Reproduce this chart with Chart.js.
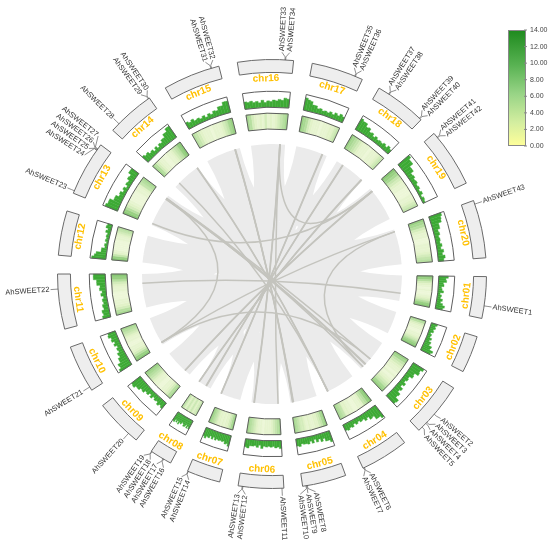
<!DOCTYPE html>
<html>
<head>
<meta charset="utf-8">
<script src="https://cdn.jsdelivr.net/npm/chart.js@4.4.0/dist/chart.umd.min.js"></script>
<style>
  body { margin: 0; background: #fff; }
  canvas { display: block; }
</style>
</head>
<body>
<canvas id="circos" width="550" height="547"></canvas>
<script>
// chromosomes (approximate lengths, Mb)
const chromosomes = ['chr01', 'chr02', 'chr03', 'chr04', 'chr05', 'chr06', 'chr07', 'chr08', 'chr09', 'chr10',
  'chr11', 'chr12', 'chr13', 'chr14', 'chr15', 'chr16', 'chr17', 'chr18', 'chr19', 'chr20'];
const chrLengths = [112, 100, 146, 130, 118, 122, 90, 60, 128, 128, 148, 120, 148, 130, 154, 150, 140, 140, 158, 156];
const gapLength = 50;

// SWEET genes: chromosome number and position (Mb)
const geneNames = ['AhSWEET1', 'AhSWEET2', 'AhSWEET3', 'AhSWEET4', 'AhSWEET5', 'AhSWEET6', 'AhSWEET7', 'AhSWEET8',
  'AhSWEET9', 'AhSWEET10', 'AhSWEET11', 'AhSWEET12', 'AhSWEET13', 'AhSWEET14', 'AhSWEET15', 'AhSWEET16',
  'AhSWEET17', 'AhSWEET18', 'AhSWEET19', 'AhSWEET20', 'AhSWEET21', 'AhSWEET22', 'AhSWEET23', 'AhSWEET24',
  'AhSWEET25', 'AhSWEET26', 'AhSWEET27', 'AhSWEET28', 'AhSWEET29', 'AhSWEET30', 'AhSWEET31', 'AhSWEET32',
  'AhSWEET33', 'AhSWEET34', 'AhSWEET35', 'AhSWEET36', 'AhSWEET37', 'AhSWEET38', 'AhSWEET39', 'AhSWEET40',
  'AhSWEET41', 'AhSWEET42', 'AhSWEET43'];
const geneChr = [1, 3, 3, 3, 3, 4, 4, 5, 5, 5, 6, 6, 6, 7, 7, 8, 8, 8, 8, 9, 10, 11,
  13, 13, 13, 13, 13, 14, 14, 14, 15, 15, 16, 16, 17, 17, 18, 18, 18, 18, 19, 19, 20];
const genePos = [78, 87, 116, 120, 134, 126, 128, 105, 107, 109, 5, 109, 111, 88, 89, 21, 23, 58, 59, 27, 10, 108,
  7, 130, 131, 133, 135, 24, 126, 128, 132, 134, 127, 129, 118, 120, 30, 32, 134, 136, 13, 15, 10];

// syntenic blocks: [chrA, startA, endA, chrB, startB, endB] (Mb)
const synteny = [
  [1, 0, 112, 11, 0, 148], [2, 0, 100, 12, 0, 120], [3, 0, 146, 13, 0, 148], [4, 0, 130, 14, 0, 130],
  [5, 0, 118, 15, 0, 154], [6, 0, 122, 16, 0, 150], [7, 0, 90, 17, 0, 140], [8, 0, 60, 18, 0, 140],
  [9, 0, 128, 19, 0, 158], [10, 0, 128, 20, 0, 156],
  [1, 34, 112, 7, 0, 63], [2, 30, 100, 8, 0, 42], [3, 44, 146, 9, 0, 90], [4, 39, 130, 10, 0, 90],
  [5, 35, 118, 11, 0, 104], [6, 37, 122, 12, 0, 84], [7, 27, 90, 13, 0, 104], [8, 18, 60, 14, 0, 91],
  [9, 38, 128, 15, 0, 108], [10, 38, 128, 16, 0, 105], [11, 44, 148, 17, 0, 98], [12, 36, 120, 18, 0, 98],
  [13, 44, 148, 19, 0, 111], [14, 39, 130, 20, 0, 109], [15, 46, 154, 1, 0, 78], [16, 45, 150, 2, 0, 70],
  [17, 42, 140, 3, 0, 102], [18, 42, 140, 4, 0, 91], [19, 47, 158, 5, 0, 83], [20, 47, 156, 6, 0, 85]
];
// duplicated gene pairs (gene numbers)
const genePairs = [[1, 22], [3, 24], [4, 25], [5, 26], [2, 27], [6, 29], [7, 30], [8, 31], [9, 32], [10, 31],
  [11, 33], [12, 34], [13, 33], [14, 35], [15, 36], [16, 37], [17, 38], [18, 39], [19, 40], [20, 41], [20, 42],
  [21, 43], [33, 41], [23, 42], [43, 5], [26, 21], [21, 2], [28, 6]];

// gene density, 16 bins per chromosome
const histValues = [
  [6, 4.5, 5, 3, 3.5, 2, 2.5, 3.5, 1.5, 2.5, 2, 3.5, 2.5, 4, 5.5, 4.5],
  [4, 3, 3.5, 2.5, 3, 1.5, 2.5, 2, 3.5, 2.5, 4, 3.5, 5.5, 5, 7.5, 6.5],
  [8, 6.5, 7, 4.5, 5, 3, 3.5, 2.5, 4, 2.5, 4.5, 3.5, 5.5, 5, 7.5, 7],
  [9, 7.5, 7.5, 5, 5.5, 3.5, 4.5, 3, 3.5, 2.5, 3.5, 2.5, 4, 3.5, 4.5, 4],
  [7, 5.5, 5.5, 3.5, 5, 3, 4.5, 2.5, 4.5, 3, 4.5, 4, 4, 3.5, 5, 4.5],
  [5, 4, 4.5, 3.5, 4, 3.5, 4, 3.5, 5, 3, 4.5, 3.5, 4, 4, 5.5, 5],
  [7, 5.5, 6, 4.5, 5, 4.5, 5, 4.5, 5.5, 4, 5.5, 4, 5.5, 5, 6.5, 5.5],
  [6, 4.5, 6, 4, 5.5, 6, 4.5, 4, 5.5, 5, 6.5, 4.5, 6, 4.5, 6.5, 6],
  [4.5, 3.5, 4.5, 3, 3.5, 2.5, 4, 2.5, 4, 3.5, 5, 4.5, 6, 6, 7.5, 7],
  [8.5, 7, 7.5, 5.5, 5.5, 4, 4.5, 3, 3.5, 2.5, 4, 3, 4.5, 4, 5.5, 5],
  [5, 4, 4.5, 3, 3.5, 2.5, 3, 2, 3.5, 2.5, 4, 3.5, 5.5, 5.5, 7.5, 7.5],
  [9, 7.5, 6.5, 3.5, 3.5, 1.5, 2, 1, 2, 1.5, 2, 1.5, 3, 2, 3.5, 3],
  [8.5, 7.5, 7.5, 5, 5, 3, 3.5, 2, 3, 1.5, 3, 2.5, 4, 3.5, 5.5, 5.5],
  [5, 4, 4.5, 3, 3.5, 2, 3.5, 2, 3.5, 3, 4.5, 4.5, 6.5, 6.5, 8.5, 8.5],
  [4.5, 3.5, 4.5, 3, 3.5, 2.5, 3.5, 2, 3.5, 2.5, 4, 3.5, 5.5, 5.5, 7.5, 7.5],
  [4.5, 4, 4.5, 3.5, 4, 3, 4.5, 3, 4, 3.5, 4.5, 4, 5, 4.5, 6, 5.5],
  [8, 7, 6.5, 4.5, 4.5, 3, 3.5, 2.5, 3, 2.5, 3.5, 2.5, 4, 3, 4.5, 3.5],
  [8, 7, 7, 5, 5.5, 3.5, 4, 2.5, 3.5, 2.5, 3, 2.5, 3.5, 2.5, 4, 3],
  [9, 7.5, 7.5, 5, 5, 3, 3.5, 2.5, 3, 2, 2.5, 1.5, 2.5, 1, 2, 1.5],
  [8, 7, 6.5, 4.5, 4.5, 3, 3.5, 2.5, 3, 2.5, 3.5, 2.5, 4, 3, 4.5, 3.5]
];
const histMax = 10;

const heatValues = [
  [10, 9, 7, 5, 4, 3, 2, 3, 2, 2, 3, 4, 5, 7, 9, 10],
  [8, 7, 5, 4, 3, 3, 2, 2, 3, 3, 4, 5, 6, 8, 9, 10],
  [9, 8, 6, 5, 4, 3, 3, 2, 3, 2, 3, 4, 5, 6, 8, 9],
  [10, 9, 7, 6, 4, 3, 3, 2, 2, 3, 3, 4, 4, 6, 7, 8],
  [9, 8, 6, 5, 4, 4, 3, 3, 4, 3, 4, 5, 5, 6, 7, 8],
  [8, 7, 6, 5, 4, 3, 3, 3, 2, 3, 3, 4, 5, 6, 7, 8],
  [9, 8, 6, 5, 4, 4, 3, 4, 3, 4, 4, 5, 6, 7, 8, 9],
  [7, 6, 5, 5, 4, 5, 6, 5, 4, 5, 6, 5, 4, 5, 6, 7],
  [8, 7, 5, 4, 3, 3, 2, 2, 3, 3, 4, 5, 6, 7, 8, 9],
  [10, 9, 7, 5, 4, 3, 3, 2, 2, 3, 3, 4, 5, 6, 7, 8],
  [8, 7, 5, 4, 3, 3, 2, 2, 2, 3, 3, 4, 5, 7, 9, 10],
  [10, 9, 6, 4, 3, 2, 2, 2, 2, 2, 3, 3, 4, 5, 6, 7],
  [10, 9, 7, 5, 4, 3, 2, 2, 2, 2, 3, 3, 4, 6, 7, 8],
  [8, 7, 5, 4, 3, 3, 2, 2, 3, 3, 4, 5, 6, 7, 9, 10],
  [7, 6, 5, 4, 3, 3, 3, 2, 3, 3, 3, 4, 5, 6, 8, 9],
  [8, 7, 5, 4, 3, 4, 3, 5, 3, 4, 3, 4, 5, 6, 7, 8],
  [9, 8, 7, 5, 4, 3, 3, 3, 2, 3, 3, 3, 4, 4, 5, 6],
  [9, 8, 7, 6, 5, 4, 3, 3, 3, 2, 3, 3, 3, 4, 5, 6],
  [10, 9, 8, 6, 5, 4, 3, 3, 2, 2, 2, 3, 3, 4, 5, 6],
  [9, 8, 7, 5, 4, 3, 3, 2, 2, 3, 3, 3, 4, 5, 6, 7]
];
const legendTicks = [0, 2, 4, 6, 8, 10, 12, 14];

// colours
const heatStops = [[0, [247, 251, 232]], [4, [226, 242, 200]], [8, [168, 216, 146]], [11, [122, 192, 102]], [14, [46, 150, 46]]];
function heatColor(v) {
  for (let i = 1; i < heatStops.length; i++) {
    if (v <= heatStops[i][0]) {
      const [v0, c0] = heatStops[i - 1], [v1, c1] = heatStops[i];
      const t = (v - v0) / (v1 - v0);
      return 'rgb(' + c0.map((c, k) => Math.round(c + (c1[k] - c) * t)).join(',') + ')';
    }
  }
  return 'rgb(46,150,46)';
}
const histGreen = '#3DAA35';

// ring data: chromosome / gap segments and binned segments
const chrData = [], binData = [], binInfo = [];
chrLengths.forEach((len, c) => {
  chrData.push(len, gapLength);
  histValues[c].forEach((v, k) => {
    binData.push(len / histValues[c].length);
    binInfo.push({ c: c, k: k });
  });
  binData.push(gapLength);
  binInfo.push(null);
});

const ringRadii = {};
function arcPoint(cx, cy, r, a) { return [cx + r * Math.cos(a), cy + r * Math.sin(a)]; }

// angle of a position on a chromosome, from the chromosome arcs laid out by the doughnut
function posAngle(chart, chr, pos) {
  const A = chart.getDatasetMeta(0).data[2 * (chr - 1)];
  return A.startAngle + (A.endAngle - A.startAngle) * pos / chrLengths[chr - 1];
}
function geneAngle(chart, g) { return posAngle(chart, geneChr[g], genePos[g]); }

function spreadLabels(angles, sep) {
  const idx = angles.map((a, i) => i).sort((p, q) => angles[p] - angles[q]);
  const groups = idx.map(i => ({ members: [i] }));
  const place = g => {
    const c = g.members.reduce((s, i) => s + angles[i], 0) / g.members.length;
    g.first = c - (g.members.length - 1) / 2 * sep;
    g.last = g.first + (g.members.length - 1) * sep;
  };
  groups.forEach(place);
  let merged = true;
  while (merged) {
    merged = false;
    for (let k = 0; k < groups.length - 1; k++) {
      if (groups[k + 1].first - groups[k].last < sep) {
        groups[k].members = groups[k].members.concat(groups[k + 1].members);
        groups.splice(k + 1, 1);
        place(groups[k]);
        merged = true;
        break;
      }
    }
  }
  const out = [];
  groups.forEach(g => g.members.forEach((i, k) => { out[i] = g.first + k * sep; }));
  return out;
}

const circosPlugin = {
  id: 'circos',
  afterDatasetUpdate(chart, args) {
    const arcs = args.meta.data;
    const first = arcs[0];
    ringRadii[args.index] = { inner: first.innerRadius, outer: first.outerRadius };
    if (args.index !== 2) return;
    arcs.forEach((arc, i) => {
      const b = binInfo[i];
      if (!b) return;
      arc.outerRadius = arc.innerRadius + (arc.outerRadius - arc.innerRadius) * histValues[b.c][b.k] / histMax;
    });
  },
  beforeDatasetsDraw(chart) {
    const ctx = chart.ctx;
    const chrArcs = chart.getDatasetMeta(0).data;
    const cx = chrArcs[0].x, cy = chrArcs[0].y;
    const r = 130;
    ctx.save();
    // synteny ribbons, merged into one path so overlaps stay a flat grey
    ctx.fillStyle = '#EBEBEB';
    ctx.beginPath();
    synteny.forEach(([ca, sa, ea, cb, sb, eb]) => {
      const a1 = posAngle(chart, ca, sa), a2 = posAngle(chart, ca, ea);
      const b1 = posAngle(chart, cb, sb), b2 = posAngle(chart, cb, eb);
      const pb1 = arcPoint(cx, cy, r, b1), pa1 = arcPoint(cx, cy, r, a1);
      ctx.moveTo(pa1[0], pa1[1]);
      ctx.arc(cx, cy, r, a1, a2);
      ctx.quadraticCurveTo(cx, cy, pb1[0], pb1[1]);
      ctx.arc(cx, cy, r, b1, b2);
      ctx.quadraticCurveTo(cx, cy, pa1[0], pa1[1]);
      ctx.closePath();
    });
    ctx.fill('nonzero');
    // gene pair links
    ctx.strokeStyle = '#C4C4BE';
    ctx.lineWidth = 1.5;
    genePairs.forEach(([g1, g2]) => {
      const p1 = arcPoint(cx, cy, r, geneAngle(chart, g1 - 1));
      const p2 = arcPoint(cx, cy, r, geneAngle(chart, g2 - 1));
      ctx.beginPath();
      ctx.moveTo(p1[0], p1[1]);
      ctx.quadraticCurveTo(cx, cy, p2[0], p2[1]);
      ctx.stroke();
    });
    ctx.restore();
  },
  afterDatasetsDraw(chart) {
    const ctx = chart.ctx;
    const chrArcs = chart.getDatasetMeta(0).data;
    const cx = chrArcs[0].x, cy = chrArcs[0].y;
    ctx.save();
    // outlines of histogram and heatmap tracks
    ctx.strokeStyle = '#5E5E5E';
    ctx.lineWidth = 1;
    [2, 4].forEach(d => {
      const rr = ringRadii[d];
      chrLengths.forEach((len, c) => {
        const A = chrArcs[2 * c];
        ctx.beginPath();
        ctx.arc(cx, cy, rr.outer, A.startAngle, A.endAngle);
        ctx.arc(cx, cy, rr.inner, A.endAngle, A.startAngle, true);
        ctx.closePath();
        ctx.stroke();
      });
    });
    // chromosome names
    ctx.fillStyle = '#FFC000';
    ctx.font = 'bold 10px "Liberation Sans", Arial, sans-serif';
    ctx.textAlign = 'center';
    ctx.textBaseline = 'middle';
    chromosomes.forEach((name, c) => {
      const A = chrArcs[2 * c];
      const mid = (A.startAngle + A.endAngle) / 2;
      const p = arcPoint(cx, cy, 195.5, mid);
      ctx.save();
      ctx.translate(p[0], p[1]);
      ctx.rotate(Math.sin(mid) > 0 ? mid - Math.PI / 2 : mid + Math.PI / 2);
      ctx.fillText(name, 0, 0);
      ctx.restore();
    });
    // gene labels with leader lines
    const angles = geneNames.map((n, g) => geneAngle(chart, g));
    const labelAngles = spreadLabels(angles, 2.0 * Math.PI / 180);
    ctx.strokeStyle = '#444';
    ctx.lineWidth = 0.6;
    ctx.fillStyle = '#333';
    ctx.font = '7.5px "Liberation Sans", Arial, sans-serif';
    geneNames.forEach((name, g) => {
      const a = angles[g], la = labelAngles[g];
      const p0 = arcPoint(cx, cy, 214.5, a), p1 = arcPoint(cx, cy, 217.5, a), p2 = arcPoint(cx, cy, 222, la);
      ctx.beginPath();
      ctx.moveTo(p0[0], p0[1]);
      ctx.lineTo(p1[0], p1[1]);
      ctx.lineTo(p2[0], p2[1]);
      ctx.stroke();
      ctx.save();
      ctx.translate(cx, cy);
      if (Math.cos(la) >= 0) {
        ctx.rotate(la);
        ctx.textAlign = 'left';
        ctx.fillText(name, 223, 0);
      } else {
        ctx.rotate(la + Math.PI);
        ctx.textAlign = 'right';
        ctx.fillText(name, -223, 0);
      }
      ctx.restore();
    });
    ctx.restore();
  },
  afterDraw(chart) {
    // colour legend
    const ctx = chart.ctx;
    const x = 508, top = 30, w = 18, h = 116;
    const max = legendTicks[legendTicks.length - 1];
    ctx.save();
    const grad = ctx.createLinearGradient(0, top, 0, top + h);
    grad.addColorStop(0, '#1E8A1E');
    grad.addColorStop(0.3, '#58B252');
    grad.addColorStop(0.55, '#98D486');
    grad.addColorStop(0.8, '#D4EEA0');
    grad.addColorStop(1, '#FFFF99');
    ctx.fillStyle = grad;
    ctx.fillRect(x, top, w, h);
    ctx.strokeStyle = '#888';
    ctx.lineWidth = 1;
    ctx.strokeRect(x + 0.5, top + 0.5, w - 1, h - 1);
    ctx.fillStyle = '#444';
    ctx.font = '7px "Liberation Sans", Arial, sans-serif';
    ctx.textAlign = 'left';
    ctx.textBaseline = 'middle';
    legendTicks.forEach(t => {
      const y = top + h - t / max * h;
      ctx.beginPath();
      ctx.moveTo(x + w - 2, y);
      ctx.lineTo(x + w + 1, y);
      ctx.stroke();
      ctx.fillText(t.toFixed(2), x + w + 4, y);
    });
    ctx.restore();
  }
};

const isGap = i => i % 2 === 1;
new Chart(document.getElementById('circos'), {
  type: 'doughnut',
  data: {
    labels: binData.map((v, i) => String(i)),
    datasets: [{
      label: 'chromosomes',
      data: chrData,
      weight: 13,
      backgroundColor: chrData.map((v, i) => isGap(i) ? 'rgba(0,0,0,0)' : '#EEEEEE'),
      borderColor: '#6A6A6A',
      borderWidth: chrData.map((v, i) => isGap(i) ? 0 : 1),
      hoverBorderWidth: 0
    }, {
      label: 'names',
      data: [1],
      weight: 19,
      backgroundColor: 'rgba(0,0,0,0)',
      borderWidth: 0
    }, {
      label: 'gene density',
      data: binData,
      weight: 16,
      backgroundColor: binInfo.map(b => b ? histGreen : 'rgba(0,0,0,0)'),
      borderColor: histGreen,
      borderWidth: binInfo.map(b => b ? 0.4 : 0)
    }, {
      label: 'spacer',
      data: [1],
      weight: 6,
      backgroundColor: 'rgba(0,0,0,0)',
      borderWidth: 0
    }, {
      label: 'heatmap',
      data: binData,
      weight: 16,
      backgroundColor: binInfo.map(b => b ? heatColor(heatValues[b.c][b.k]) : 'rgba(0,0,0,0)'),
      borderColor: binInfo.map(b => b ? heatColor(heatValues[b.c][b.k]) : 'rgba(0,0,0,0)'),
      borderWidth: binInfo.map(b => b ? 0.5 : 0)
    }]
  },
  options: {
    responsive: false,
    animation: false,
    events: [],
    rotation: 90.7,
    cutout: 145,
    hoverOffset: 0,
    layout: { padding: { left: 57, right: 63, top: 59, bottom: 58 } },
    plugins: {
      legend: { display: false },
      tooltip: { enabled: false }
    }
  },
  plugins: [circosPlugin]
});
</script>
</body>
</html>
